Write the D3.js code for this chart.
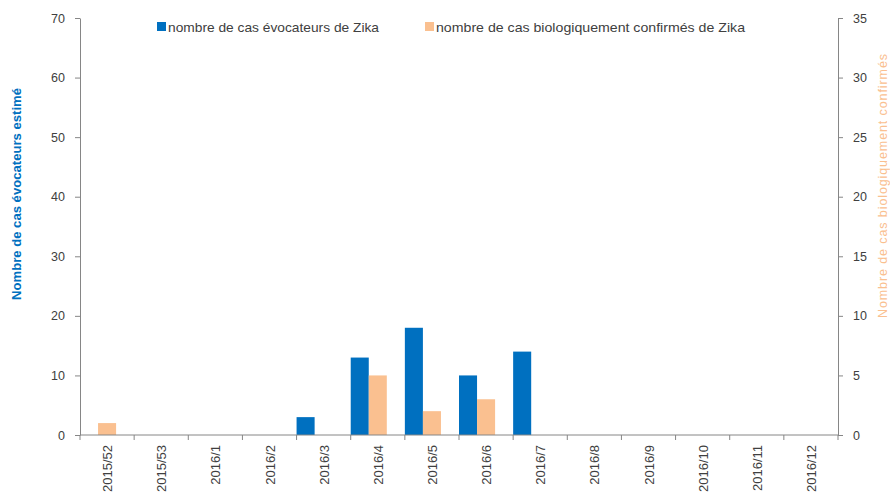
<!DOCTYPE html>
<html>
<head>
<meta charset="utf-8">
<script src="https://cdn.jsdelivr.net/npm/d3@7"></script>
<style>
  body { margin: 0; background: #fff; }
  text { font-family: "Liberation Sans", Arial, sans-serif; }
</style>
</head>
<body>
<svg width="890" height="497"></svg>
<script>
// semaines
const weeks = ["2015/52", "2015/53", "2016/1", "2016/2", "2016/3", "2016/4", "2016/5",
               "2016/6", "2016/7", "2016/8", "2016/9", "2016/10", "2016/11", "2016/12"];
// cas évocateurs (axe gauche)
const evocateurs = [0, 0, 0, 0, 3, 13, 18, 10, 14, 0, 0, 0, 0, 0];
// cas biologiquement confirmés (axe droit)
const confirmes = [1, 0, 0, 0, 0, 5, 2, 3, 0, 0, 0, 0, 0, 0];
const leftTicks = [0, 10, 20, 30, 40, 50, 60, 70];
const rightTicks = [0, 5, 10, 15, 20, 25, 30, 35];

const blue = "#0070C0", orange = "#FAC090", axisCol = "#868686", txtCol = "#404040";

var svg = d3.select("svg");
var margin = {left: 80, right: 52, top: 18, bottom: 62};
var width = 890, height = 497;

var x = d3.scaleBand().domain(weeks).range([margin.left, width - margin.right]).padding(0);
var sub = d3.scaleBand().domain(["evo", "conf"]).range([0, x.bandwidth() * 2 / 3]).padding(0);
var yL = d3.scaleLinear().domain([0, 70]).range([height - margin.bottom, margin.top]);
var yR = d3.scaleLinear().domain([0, 35]).range([height - margin.bottom, margin.top]);

// barres
var rows = weeks.map((w, i) => ({week: w, evo: evocateurs[i], conf: confirmes[i]}));
var g = svg.append("g");
g.selectAll("rect.evo").data(rows).enter().append("rect")
  .attr("x", d => x(d.week) + sub("evo"))
  .attr("width", sub.bandwidth())
  .attr("y", d => yL(d.evo))
  .attr("height", d => yL(0) - yL(d.evo))
  .attr("fill", blue);
g.selectAll("rect.conf").data(rows).enter().append("rect")
  .attr("x", d => x(d.week) + sub("conf"))
  .attr("width", sub.bandwidth())
  .attr("y", d => yR(d.conf))
  .attr("height", d => yR(0) - yR(d.conf))
  .attr("fill", orange);

// axes
function styleAxis(sel) {
  sel.select(".domain").attr("stroke", axisCol);
  sel.selectAll(".tick line").attr("stroke", axisCol);
  sel.selectAll(".tick text").attr("fill", txtCol).style("font-size", "12.5px");
}
var axL = svg.append("g").attr("transform", `translate(${margin.left},0)`)
  .call(d3.axisLeft(yL).tickValues(leftTicks).tickSizeInner(5).tickSizeOuter(0).tickPadding(10));
styleAxis(axL);
var axR = svg.append("g").attr("transform", `translate(${width - margin.right},0)`)
  .call(d3.axisRight(yR).tickValues(rightTicks).tickSizeInner(5).tickSizeOuter(0).tickPadding(10));
styleAxis(axR);

// axe x : traits aux limites des catégories
var base = yL(0);
var xg = svg.append("g");
xg.append("line").attr("x1", margin.left).attr("x2", width - margin.right)
  .attr("y1", base).attr("y2", base).attr("stroke", axisCol);
xg.selectAll("line.t").data(weeks.concat(["end"])).enter().append("line")
  .attr("x1", (d, i) => margin.left + i * x.step())
  .attr("x2", (d, i) => margin.left + i * x.step())
  .attr("y1", base).attr("y2", base + 5).attr("stroke", axisCol);
xg.selectAll("text").data(weeks).enter().append("text")
  .attr("transform", d => `translate(${x(d) + x.bandwidth() / 2 + 5},${base + 10}) rotate(-90)`)
  .attr("text-anchor", "end")
  .attr("fill", txtCol).style("font-size", "13px")
  .text(d => d);

// titres des axes
svg.append("text")
  .attr("transform", "translate(21,194) rotate(-90)")
  .attr("text-anchor", "middle").attr("fill", blue)
  .attr("textLength", 212).attr("lengthAdjust", "spacingAndGlyphs")
  .style("font-size", "12px").style("font-weight", "bold")
  .text("Nombre de cas évocateurs estimé");
svg.append("text")
  .attr("transform", "translate(887,186) rotate(-90)")
  .attr("text-anchor", "middle").attr("fill", orange)
  .attr("textLength", 264).attr("lengthAdjust", "spacing")
  .style("font-size", "12.5px")
  .text("Nombre de cas biologiquement confirmés");

// légende
var legend = [
  {label: "nombre de cas évocateurs de Zika", color: blue, x: 157, len: 211},
  {label: "nombre de cas biologiquement confirmés de Zika", color: orange, x: 425, len: 309}
];
var lg = svg.selectAll("g.leg").data(legend).enter().append("g")
  .attr("transform", d => `translate(${d.x},22)`);
lg.append("rect").attr("width", 9).attr("height", 9).attr("fill", d => d.color);
lg.append("text").attr("x", 11).attr("y", 9.5).attr("fill", txtCol)
  .attr("textLength", d => d.len).attr("lengthAdjust", "spacingAndGlyphs")
  .style("font-size", "13px").text(d => d.label);
</script>
</body>
</html>
